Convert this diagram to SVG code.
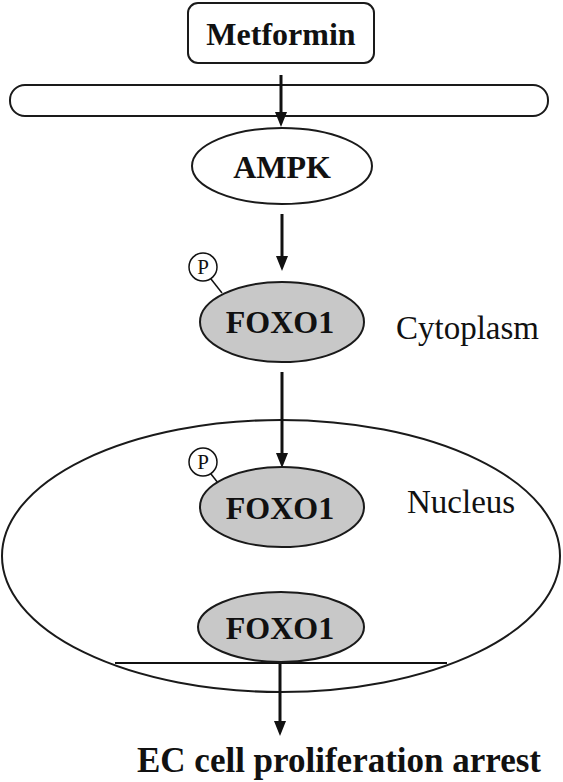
<svg xmlns="http://www.w3.org/2000/svg" width="563" height="782" viewBox="0 0 563 782">
<style>
.shape{fill:#fff;stroke:#1a1a1a;stroke-width:2}
.gray{fill:#c8c8c8;stroke:#1a1a1a;stroke-width:2}
.bt{font-family:"Liberation Serif","Times New Roman",serif;font-weight:bold;font-size:32px;fill:#111;text-anchor:middle}
.rt{font-family:"Liberation Serif","Times New Roman",serif;font-size:33px;fill:#111}
.pt{font-family:"Liberation Serif","Times New Roman",serif;font-size:21px;fill:#111;text-anchor:middle}
.pc{fill:#fff;stroke:#111;stroke-width:1.5}
.ln{stroke:#111;stroke-width:3}
.head{fill:#111}
</style>
<rect x="0" y="0" width="563" height="782" fill="#fff"/>
<g id="membrane"><rect class="shape" x="10" y="85" width="538" height="31" rx="15"/></g>
<g id="nucleus"><ellipse class="shape" cx="281" cy="556" rx="279" ry="136"/></g>
<g id="connectors">
<line class="ln" x1="281" y1="75" x2="281" y2="114"/>
<path class="head" d="M275,112 L287,112 L281,127 Z"/>
<line class="ln" x1="282" y1="214" x2="282" y2="258"/>
<path class="head" d="M276,256 L288,256 L282,271 Z"/>
<line class="ln" x1="282" y1="372" x2="282" y2="455"/>
<path class="head" d="M276,453 L288,453 L282,468 Z"/>
<line class="ln" x1="280" y1="663" x2="280" y2="723"/>
<path class="head" d="M274,721 L286,721 L280,736 Z"/>
<line x1="115" y1="663" x2="447" y2="663" stroke="#111" stroke-width="2"/>
</g>
<g id="metformin"><rect class="shape" x="188" y="3" width="186" height="60" rx="10"/><text class="bt" x="281" y="45">Metformin</text></g>
<g id="ampk"><ellipse class="shape" cx="282" cy="166" rx="90" ry="38"/><text class="bt" x="282" y="178">AMPK</text></g>
<g id="foxo1-cyto">
<line x1="211" y1="279" x2="222" y2="293" stroke="#111" stroke-width="1.5"/>
<ellipse class="gray" cx="282" cy="322" rx="82" ry="40"/><text class="bt" x="280" y="333">FOXO1</text>
<circle class="pc" cx="203" cy="267" r="14"/><text class="pt" x="203" y="274">P</text>
</g>
<g id="cytoplasm-label"><text class="rt" x="396" y="339">Cytoplasm</text></g>
<g id="foxo1-nuc">
<line x1="211" y1="474" x2="222" y2="488" stroke="#111" stroke-width="1.5"/>
<ellipse class="gray" cx="282" cy="507" rx="82" ry="40"/><text class="bt" x="280" y="519">FOXO1</text>
<circle class="pc" cx="203" cy="462" r="14"/><text class="pt" x="203" y="469">P</text>
</g>
<g id="nucleus-label"><text class="rt" x="407" y="513">Nucleus</text></g>
<g id="foxo1-dna"><ellipse class="gray" cx="281" cy="627" rx="83" ry="35"/><text class="bt" x="280" y="639">FOXO1</text></g>
<g id="outcome"><text class="bt" x="339" y="772" style="font-size:35px">EC cell proliferation arrest</text></g>
</svg>
